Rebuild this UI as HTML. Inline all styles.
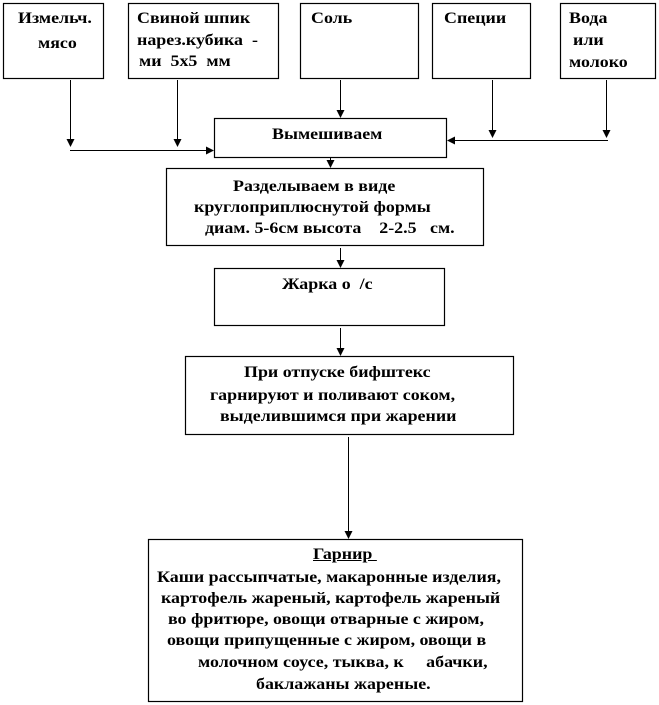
<!DOCTYPE html>
<html><head><meta charset="utf-8"><style>
body{margin:0;background:#fff;width:659px;height:705px;position:relative;overflow:hidden}
.t{position:absolute;font-family:"Liberation Serif",serif;font-weight:bold;font-size:16px;line-height:17px;white-space:pre;color:#000;transform:scaleX(1.12);transform-origin:0 0}
svg{position:absolute;left:0;top:0}
</style></head><body>
<svg width="659" height="705" viewBox="0 0 659 705">
<defs><marker id="a" markerWidth="8" markerHeight="8" refX="7" refY="4" orient="auto" markerUnits="userSpaceOnUse"><path d="M0,0 L8,4 L0,8 z" fill="#000"/></marker></defs>
<g fill="none" stroke="#000" stroke-width="1.2">
<rect x="3.5" y="3.5" width="100" height="75"/>
<rect x="128.5" y="3.5" width="150" height="75"/>
<rect x="300.5" y="3.5" width="118" height="75"/>
<rect x="432.5" y="3.5" width="98" height="75"/>
<rect x="560.5" y="3.5" width="95" height="75"/>
<rect x="214.5" y="118.5" width="232" height="39"/>
<rect x="166.5" y="168.5" width="317" height="77"/>
<rect x="214.5" y="268.5" width="230" height="57"/>
<rect x="185.5" y="356.5" width="328" height="78"/>
<rect x="148.5" y="539.5" width="374" height="162"/>
</g>
<g stroke="#000" stroke-width="1" marker-end="url(#a)">
<line x1="70.5" y1="80" x2="70.5" y2="146"/>
<line x1="177.5" y1="80" x2="177.5" y2="146"/>
<line x1="340.5" y1="80" x2="340.5" y2="117"/>
<line x1="492.5" y1="80" x2="492.5" y2="137"/>
<line x1="606.5" y1="80" x2="606.5" y2="137"/>
<line x1="70" y1="150.5" x2="213" y2="150.5"/>
<line x1="608" y1="140.5" x2="448" y2="140.5"/>
<line x1="330.5" y1="158" x2="330.5" y2="167"/>
<line x1="340.5" y1="248" x2="340.5" y2="267"/>
<line x1="340.5" y1="328" x2="340.5" y2="355"/>
<line x1="348.5" y1="437" x2="348.5" y2="538"/>
</g>
</svg>
<div class="t" style="left:18px;top:10px">Измельч.</div>
<div class="t" style="left:38px;top:35px">мясо</div>
<div class="t" style="left:137px;top:10px">Свиной шпик</div>
<div class="t" style="left:137px;top:32px">нарез.кубика  -</div>
<div class="t" style="left:139px;top:53px">ми  5х5  мм</div>
<div class="t" style="left:311px;top:10px">Соль</div>
<div class="t" style="left:444px;top:10px">Специи</div>
<div class="t" style="left:569px;top:10px">Вода</div>
<div class="t" style="left:573px;top:32px">или</div>
<div class="t" style="left:569px;top:54px">молоко</div>
<div class="t" style="left:272px;top:126px">Вымешиваем</div>
<div class="t" style="left:233px;top:178px">Разделываем в виде</div>
<div class="t" style="left:194px;top:199px">круглоприплюснутой формы</div>
<div class="t" style="left:196px;top:220px">  диам. 5-6см высота    2-2.5   см.</div>
<div class="t" style="left:282px;top:276px">Жарка о  /с</div>
<div class="t" style="left:244px;top:364px">При отпуске бифштекс</div>
<div class="t" style="left:210px;top:387px">гарнируют и поливают соком,</div>
<div class="t" style="left:220px;top:408px">выделившимся при жарении</div>
<div class="t" style="left:313px;top:546px;text-decoration:underline">Гарнир </div>
<div class="t" style="left:157px;top:569px">Каши рассыпчатые, макаронные изделия,</div>
<div class="t" style="left:161px;top:590px">картофель жареный, картофель жареный</div>
<div class="t" style="left:168px;top:611px">во фритюре, овощи отварные с жиром,</div>
<div class="t" style="left:167px;top:632px">овощи припущенные с жиром, овощи в</div>
<div class="t" style="left:198px;top:654px">молочном соусе, тыква, к     абачки,</div>
<div class="t" style="left:256px;top:676px">баклажаны жареные.</div>
</body></html>
